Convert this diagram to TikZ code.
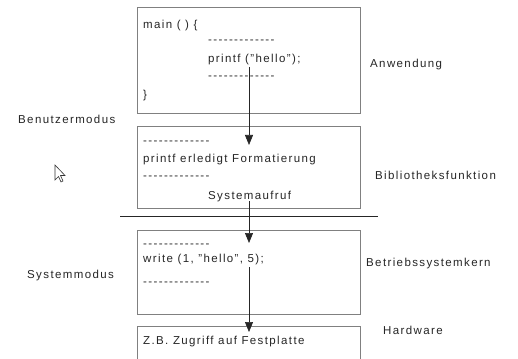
\documentclass[tikz,border=0pt]{standalone}
\usepackage{fontspec}
\setmainfont{Liberation Sans}[LetterSpace=12]
\usetikzlibrary{arrows.meta,positioning}

\newcommand{\dashrow}{-{}-{}-{}-{}-{}-{}-{}-{}-{}-{}-{}-{}-{}}

\begin{document}
\begin{tikzpicture}[
  x=1pt, y=-1pt,
  box/.style={draw=black!50, line width=0.7pt, minimum width=223pt, inner sep=0pt},
  txt/.style={inner sep=0pt, anchor=base west, text=black!85,
    font=\fontsize{11.5}{13}\selectfont},
  flow/.style={draw=black!85, line width=0.7pt, -{Triangle[length=10pt,width=8pt]}}
]
\clip (0,0) rectangle (518,358);
\fill[white] (0,0) rectangle (518,358);

% Boxes
\node[box, minimum height=106pt] (anw)  at (248.5,60)  {};
\node[box, minimum height=82pt]  (bib)  at (248.5,167) {};
\node[box, minimum height=84pt]  (kern) at (248.5,272) {};
\node[box, minimum height=48pt]  (hw)   at (248.5,350) {};

% Separator between user and system mode
\draw[line width=1pt, black!85] (120,216) -- (378,216);

% Application
\node[txt] (main)  at (143,29) {main ( ) \{};
\node[txt] (d1)    at (208,44) {\dashrow};
\node[txt] (pf)    at (208,63) {printf ("hello");};
\node[txt] (d2)    at (208,80) {\dashrow};
\node[txt] (close) at (143,99) {\}};

% Library
\node[txt] (d3)   at (143,144) {\dashrow};
\node[txt] (fmt)  at (143,162) {printf erledigt Formatierung};
\node[txt] (d4)   at (143,179) {\dashrow};
\node[txt] (sys)  at (208,199) {Systemaufruf};

% Kernel
\node[txt] (d5)    at (143,247) {\dashrow};
\node[txt] (write) at (143,262) {write (1, "hello", 5);};
\node[txt] (d6)    at (143,285) {\dashrow};

% Hardware
\node[txt] (disk) at (143,344) {Z.B. Zugriff auf Festplatte};

% Side labels
\node[txt] (lanw)  at (370,68)  {Anwendung};
\node[txt] (lbib)  at (375,179) {Bibliotheksfunktion};
\node[txt] (lkern) at (366,266) {Betriebssystemkern};
\node[txt] (lhw)   at (383,334) {Hardware};
\node[txt] (user)  at (18,124)  {Benutzermodus};
\node[txt] (sysm)  at (27,278)  {Systemmodus};

% Calls
\coordinate (s1) at (249,67);
\coordinate (e1) at (249,145);
\coordinate (s2) at (249,201);
\coordinate (e2) at (249,243);
\coordinate (s3) at (249,267);
\coordinate (e3) at (249,332);
\draw[flow] (s1) -- (e1);
\draw[flow] (s2) -- (e2);
\draw[flow] (s3) -- (e3);

% Mouse pointer
\draw[black!80, fill=white, line width=0.6pt]
  (55,165) -- (55,180) -- (58.5,176.5) -- (61,182) -- (63,181)
  -- (60.5,175.5) -- (65,175.5) -- cycle;

\end{tikzpicture}
\end{document}
